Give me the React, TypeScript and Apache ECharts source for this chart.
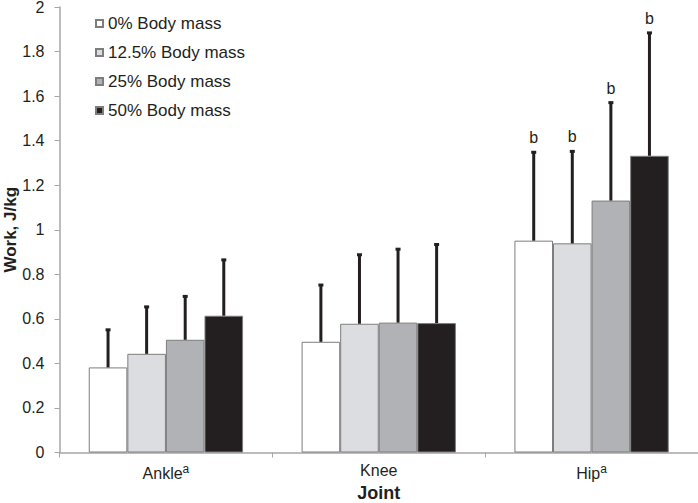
import React, { useEffect, useRef } from "react";
import * as echarts from "echarts";

const categories = ["Ankle", "Knee", "Hip"];
const categorySup = ["a", "", "a"];
const seriesNames = ["0% Body mass", "12.5% Body mass", "25% Body mass", "50% Body mass"];
const mass0 = [0.382, 0.497, 0.951];
const mass125 = [0.443, 0.578, 0.939];
const mass25 = [0.506, 0.583, 1.131];
const mass50 = [0.614, 0.581, 1.332];
const errTop0 = [0.553, 0.754, 1.35];
const errTop125 = [0.656, 0.89, 1.354];
const errTop25 = [0.703, 0.915, 1.573];
const errTop50 = [0.867, 0.936, 1.886];
const letters0 = ["", "", "b"];
const letters125 = ["", "", "b"];
const letters25 = ["", "", "b"];
const letters50 = ["", "", "b"];
const yTicks = ["0", "0.2", "0.4", "0.6", "0.8", "1", "1.2", "1.4", "1.6", "1.8", "2"];

const barColors = ["#ffffff", "#dcdde0", "#b1b2b5", "#231f20"];
const textColor = "#231f20";
const axisColor = "#a6a6a6";
const CATEGORY_GAP = 0.275;

export default function App() {
  const ref = useRef<HTMLDivElement>(null);
  useEffect(() => {
    if (!ref.current) return;
    const chart = echarts.init(ref.current, null, { renderer: "svg" });
    const means = [mass0, mass125, mass25, mass50];
    const tops = [errTop0, errTop125, errTop25, errTop50];
    const letters = [letters0, letters125, letters25, letters50];
    const errData: number[][] = [];
    const errLetters: string[] = [];
    means.forEach((arr, s) => {
      arr.forEach((v, c) => {
        errData.push([c, s, v, tops[s][c]]);
        errLetters.push(letters[s][c]);
      });
    });
    const fontFamily = "Liberation Sans, Arial, sans-serif";
    chart.setOption({
      animation: false,
      textStyle: { fontFamily },
      grid: {
        left: 59.5,
        right: 0,
        top: 7,
        bottom: 50.5,
        containLabel: false,
        outerBoundsMode: "none",
      },
      legend: {
        data: seriesNames,
        orient: "vertical",
        left: 90,
        top: 10,
        itemWidth: 7,
        itemHeight: 7,
        itemGap: 12,
        icon: "rect",
        textStyle: { fontSize: 17, color: textColor, fontFamily },
      },
      xAxis: {
        type: "category",
        data: categories.map((c, i) => (categorySup[i] ? `${c}{sup|${categorySup[i]}}` : c)),
        name: "Joint",
        nameLocation: "middle",
        nameGap: 31,
        nameMoveOverlap: false,
        nameTextStyle: { fontSize: 18, fontWeight: "bold", color: textColor, fontFamily },
        axisLine: { lineStyle: { color: axisColor, width: 1.5 } },
        axisTick: { show: true, length: 5, lineStyle: { color: axisColor } },
        axisLabel: {
          fontSize: 16,
          color: textColor,
          margin: 10,
          rich: { sup: { fontSize: 12, color: textColor, padding: [0, 0, 10, 0], fontFamily } },
        },
      },
      yAxis: {
        type: "value",
        min: 0,
        max: 2,
        interval: 0.2,
        name: "Work, J/kg",
        nameLocation: "middle",
        nameGap: 41,
        nameMoveOverlap: false,
        nameTextStyle: { fontSize: 17, fontWeight: "bold", color: textColor, fontFamily },
        splitLine: { show: false },
        axisLine: { show: true, lineStyle: { color: axisColor, width: 1.5 } },
        axisTick: { show: true, length: 5, lineStyle: { color: axisColor } },
        axisLabel: {
          fontSize: 16,
          color: textColor,
          margin: 15,
          formatter: (v: number) => yTicks[Math.round(v / 0.2)] ?? String(v),
        },
      },
      series: [
        ...means.map((arr, s) => ({
          name: seriesNames[s],
          type: "bar",
          data: arr,
          barGap: "0%",
          barCategoryGap: `${CATEGORY_GAP * 100}%`,
          itemStyle: { color: barColors[s], borderColor: "#7d7d7d", borderWidth: 1 },
        })),
        {
          type: "custom",
          name: "err",
          z: 5,
          clip: false,
          data: errData,
          renderItem: (params: any, api: any) => {
            const c = api.value(0);
            const s = api.value(1);
            const lo = api.value(2);
            const hi = api.value(3);
            const base = api.coord([c, lo]);
            const top = api.coord([c, hi]);
            const band = api.size([1, 0])[0];
            const bw = (band * (1 - CATEGORY_GAP)) / 4;
            const x = base[0] + (s - 1.5) * bw;
            const children: any[] = [
              {
                type: "line",
                shape: { x1: x, y1: base[1], x2: x, y2: top[1] },
                style: { stroke: textColor, lineWidth: 3 },
              },
              {
                type: "rect",
                shape: { x: x - 2.5, y: top[1] - 1, width: 5, height: 3 },
                style: { fill: textColor },
              },
            ];
            const letter = errLetters[params.dataIndex];
            if (letter) {
              children.push({
                type: "text",
                style: {
                  text: letter,
                  x: x,
                  y: top[1] - 6,
                  fill: textColor,
                  fontSize: 16,
                  fontFamily,
                  align: "center",
                  verticalAlign: "bottom",
                },
              });
            }
            return { type: "group", children };
          },
        },
      ],
    });
    return () => chart.dispose();
  }, []);
  return (
    <div
      ref={ref}
      style={{ position: "fixed", left: 0, top: 0, width: 698, height: 503, background: "#fff" }}
    />
  );
}
